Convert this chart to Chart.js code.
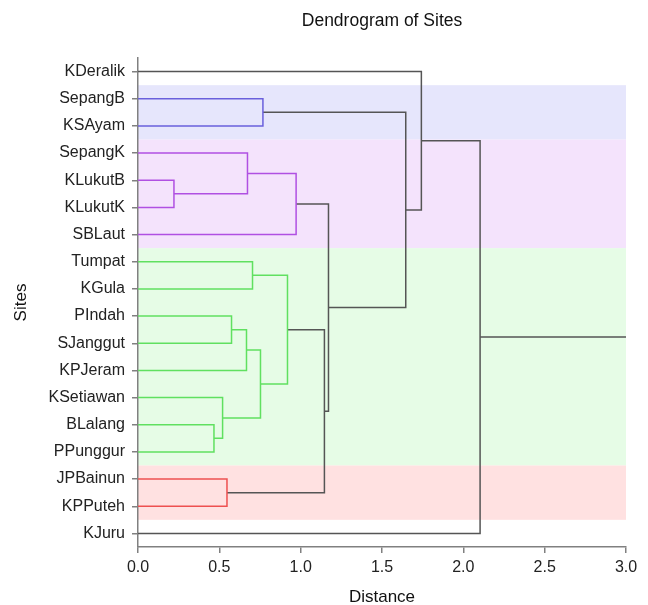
<!DOCTYPE html>
<html>
<head>
<meta charset="utf-8">
<title>Dendrogram of Sites</title>
<script src="https://cdn.jsdelivr.net/npm/chart.js@4.4.1/dist/chart.umd.min.js"></script>
<style>
  html, body { margin: 0; padding: 0; background: #ffffff; }
  #wrap { width: 648px; height: 605px; position: relative; }
</style>
</head>
<body>
<div id="wrap"><canvas id="dendroChart"></canvas></div>
<script>
// leaves, top to bottom
const sites = ["KDeralik", "SepangB", "KSAyam", "SepangK", "KLukutB", "KLukutK", "SBLaut",
  "Tumpat", "KGula", "PIndah", "SJanggut", "KPJeram", "KSetiawan", "BLalang", "PPunggur",
  "JPBainun", "KPPuteh", "KJuru"]

// merges: node 18 + k joins mergeLeft[k] and mergeRight[k] at mergeHeight[k]
const mergeLeft = [4, 13, 12, 15, 9, 22, 3, 7, 23, 1, 25, 24, 28, 29, 27, 0, 33]
const mergeRight = [5, 14, 19, 16, 10, 11, 18, 8, 20, 2, 26, 6, 21, 30, 31, 32, 17]
const mergeHeight = [0.221, 0.467, 0.520, 0.547, 0.575, 0.667, 0.673, 0.704, 0.753, 0.768,
  0.919, 0.972, 1.146, 1.171, 1.646, 1.742, 2.103]
const mergeGroup = ["purple", "green", "green", "red", "green", "green", "purple", "green",
  "green", "blue", "green", "purple", "none", "none", "none", "none", "none"]

// shaded clusters (leaf index ranges)
const bandGroup = ["blue", "purple", "green", "red"]
const bandFirst = [1, 3, 7, 15]
const bandLast = [2, 6, 14, 16]

const distanceTicks = [0, 0.5, 1, 1.5, 2, 2.5, 3]
const distanceMax = 3

const lineColors = {
  blue: "#6a60dc",
  purple: "#b050e2",
  green: "#60e060",
  red: "#ee5050",
  none: "#555555"
}
const bandColors = {
  blue: "#e6e6fc",
  purple: "#f4e3fc",
  green: "#e6fce6",
  red: "#ffe1e1"
}

const nodeX = sites.map(() => 0)
const nodeY = sites.map((s, i) => i)
const datasets = []

mergeLeft.forEach((a, k) => {
  const b = mergeRight[k]
  const h = mergeHeight[k]
  const id = sites.length + k
  nodeX[id] = h
  nodeY[id] = (nodeY[a] + nodeY[b]) / 2
  datasets.push({
    data: [
      { x: nodeX[a], y: nodeY[a] },
      { x: h, y: nodeY[a] },
      { x: h, y: nodeY[b] },
      { x: nodeX[b], y: nodeY[b] }
    ],
    borderColor: lineColors[mergeGroup[k]]
  })
})

// root tail out to the edge
const root = sites.length + mergeLeft.length - 1
datasets.push({
  data: [{ x: nodeX[root], y: nodeY[root] }, { x: distanceMax, y: nodeY[root] }],
  borderColor: lineColors.none
})

datasets.forEach(ds => {
  ds.showLine = true
  ds.pointRadius = 0
  ds.borderWidth = 1.5
  ds.fill = false
  ds.tension = 0
  ds.clip = false
})

const bandsPlugin = {
  id: "bands",
  beforeDraw(chart) {
    const { ctx, chartArea, scales } = chart
    ctx.save()
    bandGroup.forEach((g, i) => {
      const y1 = scales.y.getPixelForValue(bandFirst[i] - 0.5)
      const y2 = scales.y.getPixelForValue(bandLast[i] + 0.5)
      ctx.fillStyle = bandColors[g]
      ctx.fillRect(chartArea.left, Math.min(y1, y2), chartArea.right - chartArea.left, Math.abs(y2 - y1))
    })
    ctx.restore()
  }
}

Chart.defaults.font.family = "'Liberation Sans', Arial, sans-serif"
Chart.defaults.color = "#222222"

const axisGrey = "#808080"

new Chart(document.getElementById("dendroChart"), {
  type: "scatter",
  data: { datasets: datasets },
  plugins: [bandsPlugin],
  options: {
    responsive: true,
    maintainAspectRatio: false,
    animation: false,
    layout: { padding: { left: 0, right: 22, top: 0, bottom: 0 } },
    plugins: {
      legend: { display: false },
      tooltip: { enabled: false }
    },
    scales: {
      x: {
        type: "linear",
        position: "bottom",
        min: 0,
        max: distanceMax,
        afterBuildTicks: scale => { scale.ticks = distanceTicks.map(v => ({ value: v })) },
        afterFit: scale => { scale.height = 58 },
        ticks: {
          font: { size: 16 },
          padding: 5,
          callback: v => v.toFixed(1)
        },
        grid: { drawOnChartArea: false, drawTicks: true, tickLength: 6, color: axisGrey, lineWidth: 1.5 },
        border: { display: true, color: axisGrey, width: 1.5 },
        title: {
          display: true,
          text: "Distance",
          font: { size: 17, lineHeight: 0.85 },
          padding: { top: 0, bottom: 0 },
          color: "#111111"
        }
      },
      x2: {
        type: "linear",
        position: "top",
        axis: "x",
        afterFit: scale => { scale.height = 58 },
        ticks: { display: false },
        grid: { display: false },
        border: { display: false },
        title: {
          display: true,
          text: "Dendrogram of Sites",
          font: { size: 17.5 },
          padding: { top: 11, bottom: 0 },
          color: "#111111"
        }
      },
      y: {
        type: "linear",
        position: "left",
        min: -0.5,
        max: sites.length - 0.5,
        reverse: true,
        afterBuildTicks: scale => { scale.ticks = sites.map((s, i) => ({ value: i })) },
        afterFit: scale => { scale.width = 138 },
        ticks: {
          font: { size: 16 },
          padding: 7,
          callback: v => sites[v]
        },
        grid: { drawOnChartArea: false, drawTicks: true, tickLength: 6, color: axisGrey, lineWidth: 1.5 },
        border: { display: true, color: axisGrey, width: 1.5 },
        title: {
          display: true,
          text: "Sites",
          font: { size: 17 },
          padding: { top: 11, bottom: 0 },
          color: "#111111"
        }
      }
    }
  }
})
</script>
</body>
</html>
